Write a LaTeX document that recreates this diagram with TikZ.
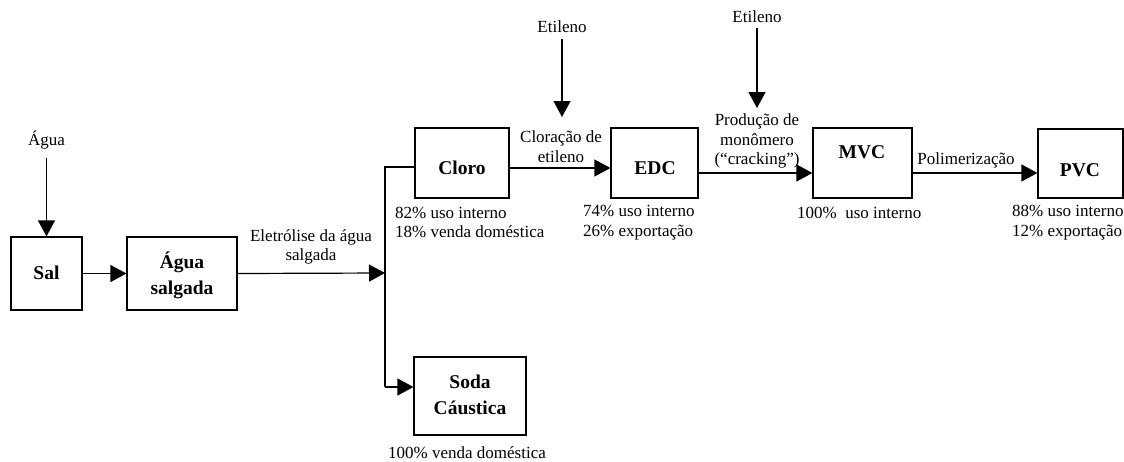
\documentclass[tikz,border=0pt]{standalone}
\usepackage{fontspec}
\setmainfont{Liberation Serif}
\usetikzlibrary{arrows.meta}
\begin{document}
\begin{tikzpicture}[x=1pt,y=-1pt,
  box/.style={draw,line width=1.2pt,rectangle,inner sep=0pt},
  btxt/.style={font=\bfseries\fontsize{19.5}{26}\selectfont,align=center,inner sep=0pt},
  ltxt/.style={font=\fontsize{17}{19.5}\selectfont,align=center,inner sep=0pt},
  ntxt/.style={font=\fontsize{17}{19.5}\selectfont,align=left,inner sep=0pt,anchor=west},
  flow/.style={line width=1.2pt,-{Triangle[length=16pt,width=17pt]}},
  plain/.style={line width=1.2pt}]
\useasboundingbox (0,0) rectangle (1124,461);
% boxes
\node[box,minimum width=71pt,minimum height=73pt] (sal) at (46.5,273.5) {};
\node[box,minimum width=110pt,minimum height=73pt] (aguasal) at (182,273.5) {};
\node[box,minimum width=94pt,minimum height=70pt] (cloro) at (462,163) {};
\node[box,minimum width=112pt,minimum height=78pt] (soda) at (470,396) {};
\node[box,minimum width=87pt,minimum height=70pt] (edc) at (654.5,163) {};
\node[box,minimum width=99pt,minimum height=70pt] (mvc) at (862.5,163) {};
\node[box,minimum width=85pt,minimum height=69pt] (pvc) at (1080.5,163.5) {};
% box texts
\node[btxt] (salT) at (46.5,273) {Sal};
\node[btxt] (aguasalT) at (182,275) {Água\\salgada};
\node[btxt] (cloroT) at (462,168) {Cloro};
\node[btxt] (sodaT) at (470,395) {Soda\\Cáustica};
\node[btxt] (edcT) at (655,168) {EDC};
\node[btxt] (mvcT) at (862,152) {MVC};
\node[btxt] (pvcT) at (1080,170) {PVC};
% inputs
\node[ltxt] (agua) at (46.5,140) {Água};
\node[ltxt] (et1) at (562,27) {Etileno};
\node[ltxt] (et2) at (757,17) {Etileno};
\coordinate (et1end) at (562,117);
\coordinate (et2end) at (757,108);
\draw[flow] ([yshift=-9pt]agua.south) -- (sal.north);
\draw[flow] ([yshift=-6pt]et1.south) -- (et1end);
\draw[flow] ([yshift=-5pt]et2.south) -- (et2end);
% main flow
\draw[flow] (sal.east) -- (aguasal.west);
\coordinate (jn) at (385,273);
\coordinate (top) at (385,167);
\coordinate (bot) at (385,387);
\draw[flow] (aguasal.east) -- (jn);
\draw[plain] (cloro.west |- top) -- (top) -- (bot);
\draw[flow] (bot) -- (bot -| soda.west);
\draw[flow] (cloro.east |- 0,168) -- (edc.west |- 0,168);
\draw[flow] (edc.east |- 0,173) -- (mvc.west |- 0,173);
\draw[flow] (mvc.east |- 0,173) -- (pvc.west |- 0,173);
% process labels
\node[ltxt] (eletro) at (311,247) {Eletrólise da água\\salgada};
\node[ltxt] (clorac) at (561,146.5) {Cloração de\\etileno};
\node[ltxt] (prod) at (757,141) {Produção de\\monômero\\(“cracking”)};
\node[ltxt] (polim) at (966,160) {Polimerização};
% notes
\node[ntxt] (n1) at (395,222.5) {82\% uso interno\\18\% venda doméstica};
\node[ntxt] (n2) at (583,222.5) {74\% uso interno\\26\% exportação};
\node[ntxt] (n3) at (797,213) {100\%\ \ uso interno};
\node[ntxt] (n4) at (1012,222.5) {88\% uso interno\\12\% exportação};
\node[ltxt] (n5) at (467,453) {100\% venda doméstica};
\end{tikzpicture}
\end{document}
